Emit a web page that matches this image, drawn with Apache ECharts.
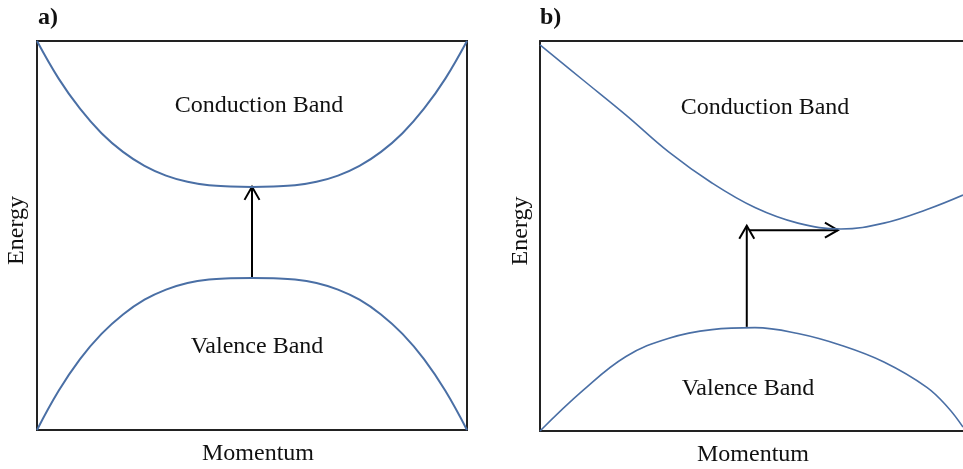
<!DOCTYPE html>
<html><head><meta charset="utf-8">
<script src="https://cdn.jsdelivr.net/npm/echarts@6/dist/echarts.min.js"></script>
<style>html,body{margin:0;padding:0;background:#fff}#c{width:963px;height:469px}</style>
</head><body><div id="c"></div>
<script>
// Panel a
const momentumA   = [0, 0.5, 1, 1.5, 2, 2.5, 3, 3.5, 4, 4.5, 5, 5.5, 6, 6.5, 7, 7.5, 8, 8.5, 9, 9.5, 10];
const conductionA = [10, 9.04, 8.26, 7.63, 7.15, 6.79, 6.54, 6.38, 6.29, 6.26, 6.25, 6.26, 6.29, 6.38, 6.54, 6.79, 7.15, 7.63, 8.26, 9.04, 10];
const valenceA    = [0, 1.0, 1.82, 2.47, 2.97, 3.35, 3.61, 3.78, 3.87, 3.9, 3.91, 3.9, 3.87, 3.78, 3.61, 3.35, 2.97, 2.47, 1.82, 1.0, 0];
// Panel b (visible momentum range ends at 9.84)
const momentumCondB = [0, 1, 2, 3, 4, 5, 6, 7, 8, 9, 9.84];
const conductionB   = [9.9, 9.0, 8.10, 7.15, 6.36, 5.73, 5.33, 5.18, 5.33, 5.68, 6.05];
const momentumValB  = [0, 1, 2, 3, 4, 5, 6, 7, 8, 9, 9.5, 9.84];
const valenceB      = [0, 1.04, 1.91, 2.38, 2.60, 2.65, 2.50, 2.20, 1.77, 1.12, 0.59, 0.10];
// Arrows [x0, y0, x1, y1]
const arrowsA = [[5, 3.91, 5, 6.25]];
const arrowsB = [[4.81, 2.67, 4.81, 5.26], [4.88, 5.15, 6.93, 5.15]];

const pair = (xs, ys) => xs.map((x, i) => [x, ys[i]]);
const blue = '#4a6fa5';
const font = '"Liberation Serif", "Times New Roman", serif';

function arrowRender(params, api) {
  const p0 = api.coord([api.value(0), api.value(1)]);
  const p1 = api.coord([api.value(2), api.value(3)]);
  const dx = p1[0] - p0[0], dy = p1[1] - p0[1];
  const len = Math.sqrt(dx * dx + dy * dy) || 1;
  const ux = dx / len, uy = dy / len;
  const hl = 13, hw = 7.5;
  const bx = p1[0] - ux * hl, by = p1[1] - uy * hl;
  const w1 = [bx - uy * hw, by + ux * hw];
  const w2 = [bx + uy * hw, by - ux * hw];
  const st = { stroke: '#000', lineWidth: 2, fill: null };
  return {
    type: 'group',
    children: [
      { type: 'line', shape: { x1: p0[0], y1: p0[1], x2: p1[0], y2: p1[1] }, style: st },
      { type: 'polyline', shape: { points: [w1, p1, w2] }, style: st }
    ]
  };
}

const chart = echarts.init(document.getElementById('c'), null, { renderer: 'canvas' });
const nameStyle = (pad) => ({ fontFamily: font, fontSize: 24, color: '#111', padding: pad });
const borderLine = { show: true, onZero: false, lineStyle: { color: '#222', width: 2 } };
const axisX = (gi, name, max, line, pad) => ({
  gridIndex: gi, type: 'value', min: 0, max: max,
  axisLine: line ? borderLine : { show: false }, axisTick: { show: false }, axisLabel: { show: false }, splitLine: { show: false },
  name: name, nameLocation: 'middle', nameGap: 12, nameTextStyle: nameStyle(pad)
});
const axisY = (gi, name, gap, line) => ({
  gridIndex: gi, type: 'value', min: 0, max: 10,
  axisLine: line ? borderLine : { show: false }, axisTick: { show: false }, axisLabel: { show: false }, splitLine: { show: false },
  name: name, nameLocation: 'middle', nameGap: gap, nameTextStyle: nameStyle([0, 0, 0, 10])
});
const lineS = (xi, data, w, sm) => ({
  type: 'line', xAxisIndex: xi, yAxisIndex: xi, data: data, smooth: sm,
  symbol: 'none', lineStyle: { color: blue, width: w }, silent: true, animation: false
});

chart.setOption({
  animation: false,
  backgroundColor: '#fff',
  grid: [
    { left: 37, top: 41, width: 430, height: 389, show: true, borderColor: '#222', borderWidth: 2, backgroundColor: 'transparent', containLabel: false, outerBoundsMode: 'none' },
    { left: 540, top: 41, right: 0, height: 390, show: false, containLabel: false, outerBoundsMode: 'none' }
  ],
  xAxis: [
    axisX(0, 'Momentum', 10, false, [0, 0, 0, 12]),
    axisX(1, 'Momentum', 9.84, true, [0, 0, 0, 3]),
    { gridIndex: 1, type: 'value', position: 'top', min: 0, max: 9.84, axisLine: borderLine,
      axisTick: { show: false }, axisLabel: { show: false }, splitLine: { show: false } }
  ],
  yAxis: [axisY(0, 'Energy', 8, false), axisY(1, 'Energy', 7, true)],
  series: [
    lineS(0, pair(momentumA, conductionA), 2, 0.4),
    lineS(0, pair(momentumA, valenceA), 2, 0.4),
    lineS(1, pair(momentumCondB, conductionB), 1.6, 0.4),
    lineS(1, pair(momentumValB, valenceB), 1.6, 0.4),
    { type: 'custom', xAxisIndex: 0, yAxisIndex: 0, data: arrowsA, renderItem: arrowRender, encode: { x: [0, 2], y: [1, 3] }, silent: true },
    { type: 'custom', xAxisIndex: 1, yAxisIndex: 1, data: arrowsB, renderItem: arrowRender, encode: { x: [0, 2], y: [1, 3] }, silent: true }
  ],
  graphic: [
    { type: 'text', left: 38, top: 6, style: { text: 'a)', font: 'bold 24px ' + font, fill: '#111' } },
    { type: 'text', left: 540, top: 6, style: { text: 'b)', font: 'bold 24px ' + font, fill: '#111' } },
    { type: 'text', x: 259, y: 106, style: { text: 'Conduction Band', font: '24px ' + font, fill: '#111', textAlign: 'center', textVerticalAlign: 'middle' } },
    { type: 'text', x: 257, y: 347, style: { text: 'Valence Band', font: '24px ' + font, fill: '#111', textAlign: 'center', textVerticalAlign: 'middle' } },
    { type: 'text', x: 765, y: 108, style: { text: 'Conduction Band', font: '24px ' + font, fill: '#111', textAlign: 'center', textVerticalAlign: 'middle' } },
    { type: 'text', x: 748, y: 389, style: { text: 'Valence Band', font: '24px ' + font, fill: '#111', textAlign: 'center', textVerticalAlign: 'middle' } }
  ]
});
</script></body></html>
